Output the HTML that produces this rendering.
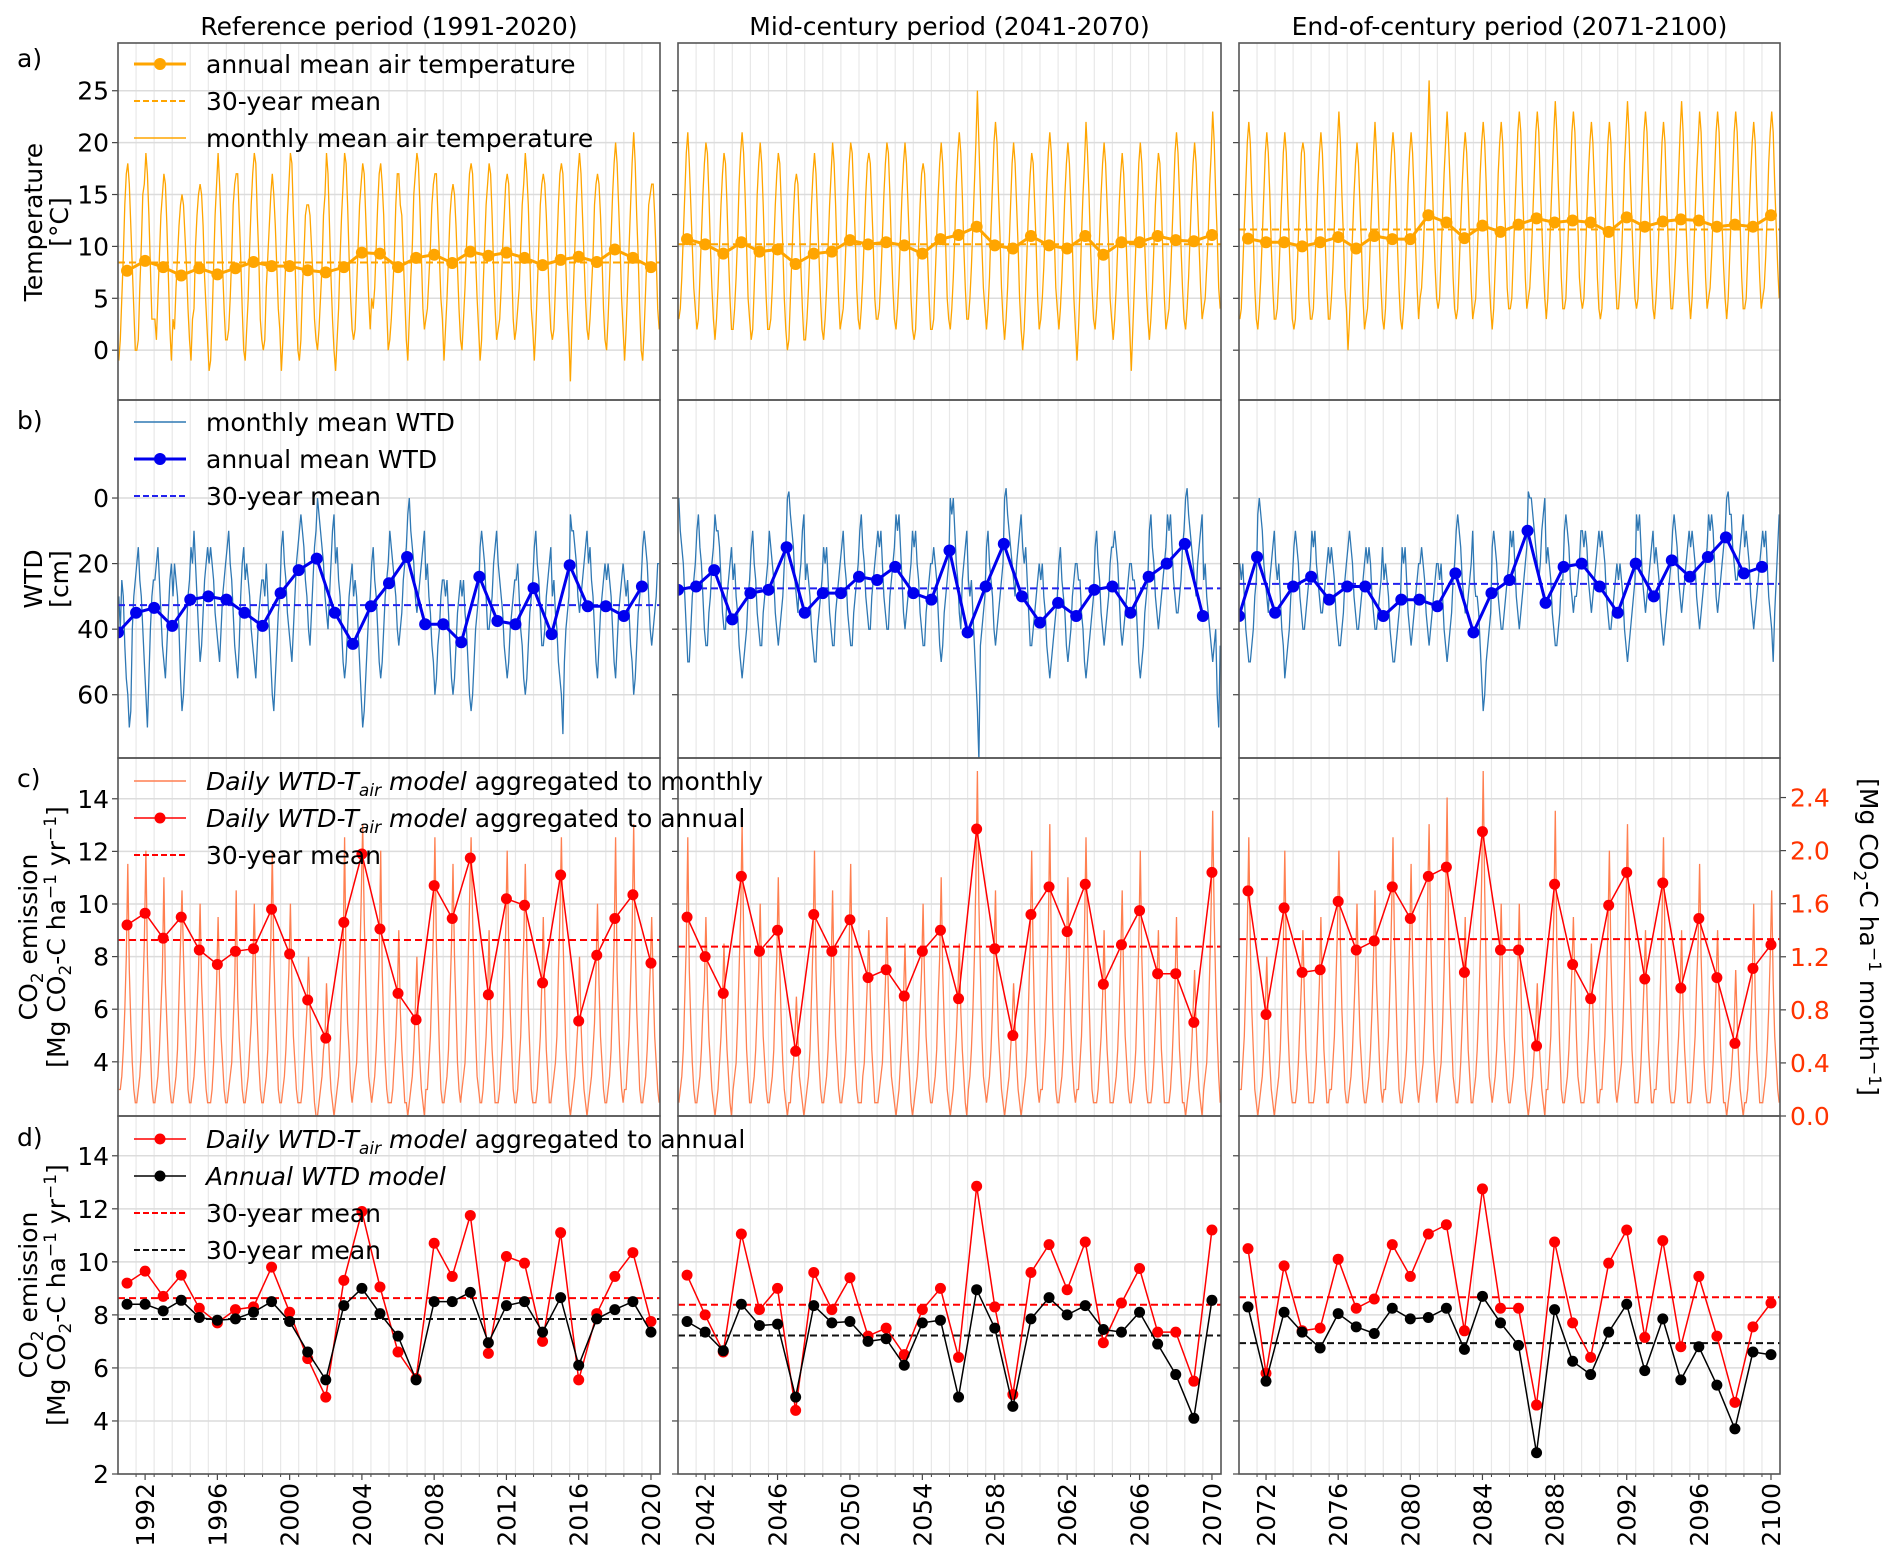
<!DOCTYPE html>
<html><head><meta charset="utf-8"><title>Climate scenario panels</title>
<style>html,body{margin:0;padding:0;background:#fff}svg{display:block}</style></head>
<body>
<svg id="fig" xmlns="http://www.w3.org/2000/svg" width="1892" height="1561" viewBox="0 0 1892 1561" font-family="'DejaVu Sans','Liberation Sans',sans-serif"></svg>
<script>
// ---------- DATA ----------
const periodTitles = ["Reference period (1991-2020)", "Mid-century period (2041-2070)", "End-of-century period (2071-2100)"];
const startYears = [1991, 2041, 2071];
const tickYears1 = [1992,1996,2000,2004,2008,2012,2016,2020];
const tickYears2 = [2042,2046,2050,2054,2058,2062,2066,2070];
const tickYears3 = [2072,2076,2080,2084,2088,2092,2096,2100];
const tempTicks = [0,5,10,15,20,25];
const wtdTicks = [0,20,40,60];
const co2Ticks = [4,6,8,10,12,14];
const co2TicksD = [2,4,6,8,10,12,14];
const co2MonthTicks = ["0.0","0.4","0.8","1.2","1.6","2.0","2.4"];

const tempAnnual1 = [7.65,8.6,8.0,7.2,7.9,7.3,7.9,8.5,8.1,8.1,7.7,7.5,8.0,9.4,9.3,8.0,8.9,9.2,8.4,9.5,9.1,9.4,8.9,8.2,8.7,9.0,8.5,9.7,8.9,8.0];
const tempAnnual2 = [10.7,10.2,9.3,10.4,9.5,9.7,8.3,9.3,9.5,10.6,10.2,10.4,10.1,9.3,10.7,11.1,11.9,10.1,9.8,11.0,10.1,9.8,11.0,9.2,10.4,10.4,11.0,10.6,10.5,11.1];
const tempAnnual3 = [10.75,10.4,10.4,10.0,10.4,10.9,9.8,11.0,10.7,10.7,13.0,12.3,10.8,12.0,11.4,12.1,12.7,12.3,12.5,12.3,11.4,12.8,11.9,12.4,12.6,12.5,11.9,12.1,11.9,13.0];

const wtdAnnual1 = [41,35,33.5,39,31,30,31,35,39,29,22,18.5,35,44.5,33,26,18,38.5,38.5,44,24,37.5,38.5,27.5,41.5,20.5,33,33,36,27];
const wtdAnnual2 = [28,27,22,37,29,28,15,35,29,29,24,25,21,29,31,16,41,27,14,30,38,32,36,28,27,35,24,20,14,36];
const wtdAnnual3 = [36,18,35,27,24,31,27,27,36,31,31,33,23,41,29,25,10,32,21,20,27,35,20,30,19,24,18,12,23,21];

const co2Daily1 = [9.2,9.65,8.7,9.5,8.25,7.7,8.2,8.3,9.8,8.1,6.35,4.9,9.3,11.9,9.05,6.6,5.6,10.7,9.45,11.75,6.55,10.2,9.95,7.0,11.1,5.55,8.05,9.45,10.35,7.75];
const co2Daily2 = [9.5,8.0,6.6,11.05,8.2,9.0,4.4,9.6,8.2,9.4,7.2,7.5,6.5,8.2,9.0,6.4,12.85,8.3,5.0,9.6,10.65,8.95,10.75,6.95,8.45,9.75,7.35,7.35,5.5,11.2];
const co2Daily3 = [10.5,5.8,9.85,7.4,7.5,10.1,8.25,8.6,10.65,9.45,11.05,11.4,7.4,12.75,8.25,8.25,4.6,10.75,7.7,6.4,9.95,11.2,7.15,10.8,6.8,9.45,7.2,4.7,7.55,8.45];

const co2Annual1 = [8.4,8.4,8.15,8.55,7.9,7.8,7.85,8.1,8.5,7.75,6.6,5.55,8.35,9.0,8.05,7.2,5.55,8.5,8.5,8.85,6.95,8.35,8.5,7.35,8.65,6.1,7.85,8.2,8.5,7.35];
const co2Annual2 = [7.75,7.35,6.65,8.4,7.6,7.65,4.9,8.35,7.7,7.75,7.0,7.1,6.1,7.7,7.8,4.9,8.95,7.5,4.55,7.85,8.65,8.0,8.35,7.45,7.35,8.1,6.9,5.75,4.1,8.55];
const co2Annual3 = [8.3,5.5,8.1,7.35,6.75,8.05,7.55,7.3,8.25,7.85,7.9,8.25,6.7,8.7,7.7,6.85,2.8,8.2,6.25,5.75,7.35,8.4,5.9,7.85,5.55,6.8,5.35,3.7,6.6,6.5];

const tempMonthly1 = ("-1 1 5 9 14 17 18 16 12 8 4 0 0 1 6 10 15 16 19 17 13 8 3 3 3 1 5 9 13 15 17 16 12 7 2 -1 3 2 6 9 12 14 15 14 11 8 4 1 "+
"-1 3 4 10 13 15 16 15 12 7 4 1 -2 -1 3 8 13 16 19 16 12 8 4 1 1 2 5 9 14 16 17 17 13 9 4 0 -1 2 5 10 14 17 19 18 13 9 3 1 "+
"0 1 6 9 12 15 17 15 12 8 4 2 -2 1 5 9 13 16 19 18 13 9 4 0 -1 1 6 9 13 14 14 13 10 7 3 1 0 2 5 8 13 15 19 17 12 7 3 0 "+
"-2 1 4 9 13 16 19 18 14 9 5 2 1 2 6 10 14 16 18 17 13 9 5 2 5 4 6 10 14 17 18 16 13 8 4 0 1 3 6 9 14 17 17 14 13 9 5 1 "+
"-1 3 7 10 15 17 19 18 14 9 4 2 3 4 7 10 14 16 17 17 13 9 5 3 -1 2 5 9 13 15 16 15 12 8 4 1 0 3 6 10 14 17 18 17 13 9 5 2 "+
"-1 1 6 10 14 16 18 17 13 8 4 1 2 3 6 10 13 16 17 16 12 8 3 1 2 4 6 10 14 16 19 17 14 9 4 2 -1 2 6 10 14 16 17 16 13 9 5 2 "+
"1 2 6 10 14 17 18 17 13 8 4 1 -3 2 6 10 14 17 19 17 13 9 5 2 1 3 6 9 14 16 17 16 13 9 4 1 0 3 7 11 15 18 20 18 14 10 5 2 "+
"-1 2 6 10 14 18 21 18 13 9 4 0 -1 2 6 10 14 15 16 16 13 9 4 2").split(" ").map(Number);
const tempMonthly2 = ("3 4 7 11 15 19 21 18 14 10 6 4 2 3 7 11 15 18 20 19 15 10 6 3 1 3 6 10 14 17 19 18 14 9 5 2 2 4 7 11 16 19 21 19 15 10 5 3 "+
"1 2 6 10 15 18 20 18 14 9 5 2 2 3 6 10 14 17 19 18 14 10 5 2 0 1 5 9 13 16 17 16 12 8 4 1 1 3 6 10 14 17 19 17 13 9 5 2 "+
"1 3 6 10 14 17 20 18 14 9 5 2 3 4 7 11 15 18 20 19 15 11 6 3 2 4 7 11 15 18 19 18 14 10 5 3 3 4 7 11 15 18 20 19 15 10 6 3 "+
"2 4 7 11 15 18 20 18 14 10 5 2 1 2 6 10 14 17 18 17 13 9 5 2 2 3 7 11 15 18 20 18 14 10 5 3 2 4 7 11 16 19 21 19 15 10 6 3 "+
"3 5 8 12 16 20 25 20 15 10 6 4 2 4 7 12 16 20 22 20 15 11 6 3 1 3 6 10 14 18 20 18 14 10 5 2 0 2 6 10 14 17 19 18 14 10 5 2 "+
"3 5 8 12 16 19 21 19 15 11 6 4 2 4 7 11 15 18 20 18 14 10 5 2 -1 2 6 11 15 18 22 19 15 10 6 3 2 4 7 11 15 18 20 18 14 10 5 3 "+
"1 3 6 10 14 17 19 17 13 9 5 2 -2 2 6 10 14 18 20 18 14 10 6 3 1 3 6 10 14 17 19 18 14 9 5 2 3 4 7 11 15 19 21 19 15 10 6 3 "+
"2 4 7 11 15 18 20 18 14 10 6 3 4 5 8 11 16 19 23 20 15 11 6 4").split(" ").map(Number);
const tempMonthly3 = ("3 4 8 12 16 20 22 20 15 11 6 3 2 4 7 11 15 19 21 19 15 10 6 3 3 4 7 11 15 19 21 19 14 10 6 3 2 3 7 11 15 19 20 19 14 10 5 3 "+
"3 4 8 12 16 19 21 19 15 10 6 3 3 5 8 12 16 20 23 20 15 11 6 4 0 3 7 11 15 18 20 18 14 10 5 2 3 4 7 11 15 19 22 19 15 10 6 3 "+
"2 4 8 12 16 19 21 19 15 10 6 3 2 4 7 11 16 19 21 19 15 10 6 3 5 6 9 13 17 21 26 21 17 12 8 5 4 5 9 13 17 20 23 20 16 12 7 4 "+
"3 4 8 12 16 19 21 19 15 10 6 3 4 5 9 13 17 20 22 20 16 11 7 4 2 4 8 12 17 20 22 20 15 11 6 4 4 5 9 13 17 21 23 21 16 12 7 4 "+
"5 6 9 13 17 21 23 21 16 12 8 5 3 5 9 13 17 21 24 21 16 12 7 4 4 5 9 13 17 21 23 21 16 12 7 5 4 5 9 13 17 20 22 20 16 12 7 4 "+
"3 4 8 12 16 20 22 20 15 11 7 4 4 6 9 13 18 21 24 21 16 12 8 5 4 5 9 13 17 21 23 21 16 12 7 4 3 5 8 12 16 20 22 20 15 11 7 4 "+
"4 6 9 13 17 21 24 21 16 12 8 5 3 5 9 13 17 20 23 21 16 12 7 4 5 6 9 13 17 21 23 21 16 12 8 5 3 5 9 13 17 21 23 21 16 12 7 4 "+
"4 5 9 13 17 20 22 20 15 11 7 4 5 6 9 13 18 21 23 21 16 12 8 5").split(" ").map(Number);

const wtdMonthly1 = ("30 40 25 30 45 55 60 70 65 40 30 25 20 15 25 30 40 50 60 70 55 40 30 25 25 20 15 25 35 45 50 55 45 35 25 20 30 20 25 30 40 55 65 60 50 40 30 25 "+
"15 20 10 20 30 40 50 45 35 25 20 15 20 15 20 25 35 40 45 50 40 30 25 20 15 10 20 25 35 45 50 55 45 30 20 15 25 20 25 30 40 45 50 55 45 35 30 25 "+
"25 30 20 30 40 50 60 65 55 45 35 30 15 10 20 25 35 40 45 50 40 30 20 15 10 5 10 15 25 30 40 45 35 25 15 10 0 5 10 15 20 30 35 40 30 20 10 5 "+
"20 15 25 30 40 50 55 50 40 30 25 20 30 25 30 40 50 60 70 65 55 45 35 30 20 15 25 30 40 50 55 50 40 30 25 20 10 15 20 25 30 40 45 40 35 25 20 15 "+
"5 0 10 15 20 30 35 30 25 20 15 10 25 20 30 35 45 50 60 55 45 40 30 25 25 30 25 35 45 55 60 55 45 35 30 25 30 25 35 40 50 60 65 60 50 40 35 30 "+
"15 10 15 20 30 40 40 35 30 20 15 10 20 25 30 35 45 50 55 50 40 35 30 25 25 20 30 40 45 55 60 55 45 35 30 25 15 10 20 25 35 45 45 40 30 25 20 15 "+
"30 25 35 40 50 55 60 72 50 40 35 30 5 10 10 15 20 30 35 30 25 20 15 10 20 15 25 30 40 50 55 45 35 30 25 20 25 20 25 30 40 50 55 45 35 30 25 20 "+
"25 30 25 35 45 50 60 55 45 35 30 25 15 10 15 20 30 40 45 40 35 30 20 20").split(" ").map(Number);
const wtdMonthly2 = ("0 10 15 20 30 40 50 50 40 30 25 20 10 5 15 20 30 40 45 45 35 30 20 15 5 10 10 15 25 35 40 40 30 25 20 15 25 20 30 35 45 50 55 50 45 40 30 25 "+
"15 10 20 25 35 40 45 45 35 30 25 20 10 15 20 25 35 40 45 40 35 30 20 15 0 -2 5 10 15 25 30 35 25 20 10 5 25 20 25 30 40 45 50 50 40 35 30 25 "+
"15 20 15 25 35 40 45 45 35 30 25 20 15 10 20 25 35 40 45 45 35 30 25 20 10 5 15 20 30 35 40 40 30 25 20 15 10 15 10 20 30 35 40 40 30 25 20 15 "+
"5 10 5 15 25 35 40 35 30 25 20 10 15 10 20 25 35 40 45 45 35 30 25 20 20 15 20 25 35 45 50 45 35 30 25 20 0 5 0 10 20 25 35 40 25 20 15 10 "+
"25 30 25 35 45 55 65 80 45 40 35 30 15 10 20 25 30 40 45 40 35 30 25 20 0 -3 5 10 15 20 25 30 20 15 10 5 15 20 15 25 35 45 45 40 35 30 25 20 "+
"25 20 30 35 45 50 55 50 45 40 35 30 20 15 25 30 35 45 50 45 40 30 25 20 20 25 25 35 40 50 55 50 45 40 35 30 15 10 20 25 35 40 45 40 35 30 20 15 "+
"15 10 15 20 30 40 45 40 35 30 25 20 20 25 25 30 40 50 55 50 45 35 30 25 10 5 15 20 30 35 40 35 30 25 20 15 5 10 5 15 25 30 35 35 30 25 15 10 "+
"0 -3 5 10 15 20 25 30 20 15 10 5 25 20 30 35 40 45 50 45 40 60 70 45").split(" ").map(Number);
const wtdMonthly3 = ("20 25 20 30 40 45 50 50 45 40 30 25 5 0 5 10 20 25 30 35 25 20 15 10 20 25 20 30 40 45 55 50 45 40 30 25 15 10 15 20 30 35 40 40 35 30 25 20 "+
"10 15 10 20 25 30 35 35 30 25 20 15 20 15 20 25 35 40 45 45 40 35 25 20 15 10 15 20 30 35 40 40 35 30 25 20 15 20 15 20 30 35 40 40 35 30 25 15 "+
"25 20 25 30 40 45 50 50 45 40 35 30 15 20 15 25 35 40 45 40 35 30 25 20 20 15 20 25 35 40 45 40 35 30 25 20 20 25 20 30 40 45 50 45 40 35 25 20 "+
"10 5 10 15 25 30 35 35 30 25 20 10 25 30 30 35 45 55 65 60 50 45 40 35 15 10 15 20 30 35 40 40 35 30 25 20 10 15 10 20 30 35 40 35 30 25 20 15 "+
"-2 0 0 5 10 15 20 25 20 10 5 0 20 15 20 25 35 40 45 45 40 35 25 25 10 5 10 15 25 30 35 30 30 25 20 10 10 15 10 15 25 30 35 30 25 20 15 10 "+
"15 10 15 20 30 35 40 40 35 30 25 20 25 20 25 30 40 45 50 45 40 35 30 25 5 10 5 15 25 30 35 30 25 20 15 10 20 15 20 25 35 40 45 40 35 30 25 20 "+
"10 5 10 15 25 30 35 30 25 20 15 10 15 10 15 20 30 35 40 35 30 25 20 15 5 10 5 10 20 30 35 30 25 20 15 10 0 -2 5 5 15 20 25 25 20 15 10 5 "+
"15 10 15 20 30 35 40 35 30 25 20 15 10 15 10 20 30 35 40 50 35 25 15 5").split(" ").map(Number);

const co2Monthly1 = ("0.2 0.2 0.3 0.5 0.8 1.2 1.9 1.1 0.7 0.4 0.2 0.1 0.1 0.2 0.3 0.5 0.9 1.3 2.0 1.2 0.8 0.5 0.2 0.1 0.1 0.2 0.3 0.5 0.8 1.1 1.8 1.0 0.7 0.4 0.2 0.1 0.1 0.2 0.3 0.5 0.9 1.3 1.7 1.2 0.8 0.5 0.2 0.1 "+
"0.1 0.2 0.3 0.5 0.8 1.1 1.6 1.0 0.7 0.4 0.2 0.1 0.1 0.1 0.2 0.4 0.7 1.0 1.5 1.0 0.6 0.4 0.2 0.1 0.1 0.2 0.3 0.4 0.7 1.0 1.7 0.9 0.6 0.4 0.2 0.1 0.1 0.2 0.3 0.5 0.7 1.1 1.6 1.0 0.7 0.4 0.2 0.1 "+
"0.1 0.2 0.3 0.5 0.9 1.3 2.0 1.2 0.8 0.5 0.2 0.1 0.1 0.2 0.3 0.5 0.8 1.1 1.6 1.0 0.6 0.4 0.2 0.1 0.1 0.1 0.2 0.4 0.6 0.8 1.2 0.8 0.5 0.3 0.1 0.0 0.0 0.1 0.2 0.3 0.5 0.6 1.0 0.7 0.4 0.2 0.1 0.0 "+
"0.1 0.2 0.3 0.5 0.9 1.2 2.1 1.1 0.7 0.5 0.2 0.1 0.2 0.3 0.4 0.7 1.1 1.6 2.2 1.5 1.0 0.6 0.3 0.2 0.1 0.2 0.3 0.5 0.8 1.2 2.0 1.1 0.7 0.4 0.2 0.1 0.1 0.1 0.2 0.4 0.6 0.9 1.4 0.8 0.5 0.3 0.1 0.1 "+
"0.0 0.1 0.2 0.3 0.5 0.8 1.2 0.7 0.4 0.2 0.1 0.0 0.2 0.2 0.4 0.6 1.0 1.4 2.1 1.3 0.9 0.5 0.2 0.1 0.1 0.2 0.3 0.5 0.9 1.3 1.9 1.2 0.8 0.4 0.2 0.1 0.2 0.3 0.4 0.7 1.1 1.6 2.1 1.5 1.0 0.6 0.3 0.2 "+
"0.1 0.1 0.2 0.4 0.6 0.9 1.4 0.8 0.5 0.3 0.1 0.1 0.1 0.2 0.4 0.6 1.0 1.4 2.0 1.3 0.8 0.5 0.2 0.1 0.1 0.2 0.4 0.6 1.0 1.3 1.9 1.3 0.8 0.5 0.2 0.1 0.1 0.1 0.2 0.4 0.6 1.0 1.5 0.9 0.5 0.3 0.1 0.1 "+
"0.2 0.3 0.4 0.6 1.1 1.5 2.1 1.4 0.9 0.5 0.3 0.1 0.0 0.1 0.2 0.3 0.5 0.7 1.2 0.7 0.4 0.2 0.1 0.0 0.1 0.2 0.3 0.5 0.7 1.1 1.6 1.0 0.6 0.4 0.2 0.1 0.1 0.2 0.3 0.5 0.9 1.3 2.1 1.1 0.7 0.4 0.2 0.1 "+
"0.2 0.2 0.4 0.6 1.0 1.4 2.2 1.3 0.8 0.5 0.2 0.1 0.1 0.2 0.3 0.5 0.8 1.1 1.5 1.0 0.6 0.4 0.2 0.1").split(" ").map(Number);
const co2Monthly2 = ("0.1 0.2 0.3 0.5 0.9 1.3 2.1 1.1 0.7 0.4 0.2 0.1 0.1 0.2 0.3 0.5 0.8 1.0 1.5 1.0 0.6 0.4 0.2 0.1 0.0 0.1 0.2 0.4 0.6 0.9 1.3 0.8 0.5 0.3 0.1 0.0 0.2 0.3 0.4 0.7 1.1 1.5 2.2 1.4 0.9 0.5 0.3 0.1 "+
"0.1 0.2 0.3 0.5 0.8 1.1 1.6 1.0 0.6 0.4 0.2 0.1 0.1 0.2 0.3 0.5 0.9 1.2 1.8 1.1 0.7 0.4 0.2 0.1 0.0 0.1 0.1 0.3 0.4 0.6 0.9 0.6 0.3 0.2 0.1 0.0 0.1 0.2 0.3 0.5 0.9 1.3 2.0 1.1 0.7 0.4 0.2 0.1 "+
"0.1 0.2 0.3 0.5 0.8 1.1 1.7 1.0 0.6 0.4 0.2 0.1 0.1 0.2 0.3 0.5 0.9 1.3 1.9 1.1 0.7 0.4 0.2 0.1 0.1 0.1 0.3 0.4 0.7 1.0 1.4 0.9 0.5 0.3 0.1 0.1 0.1 0.2 0.3 0.4 0.7 1.0 1.5 0.9 0.6 0.3 0.2 0.1 "+
"0.0 0.1 0.2 0.4 0.6 0.9 1.3 0.8 0.5 0.3 0.1 0.0 0.1 0.2 0.3 0.5 0.8 1.1 1.6 1.0 0.6 0.4 0.2 0.1 0.1 0.2 0.3 0.5 0.9 1.2 1.8 1.1 0.7 0.4 0.2 0.1 0.0 0.1 0.2 0.4 0.6 0.9 1.3 0.8 0.5 0.3 0.1 0.0 "+
"0.2 0.3 0.5 0.8 1.2 1.8 2.6 1.6 1.1 0.6 0.3 0.2 0.1 0.2 0.3 0.5 0.8 1.2 1.7 1.0 0.6 0.4 0.2 0.1 0.0 0.1 0.2 0.3 0.5 0.7 1.0 0.7 0.4 0.2 0.1 0.0 0.1 0.2 0.3 0.5 0.9 1.3 2.0 1.2 0.7 0.4 0.2 0.1 "+
"0.2 0.2 0.4 0.6 1.0 1.4 2.2 1.3 0.8 0.5 0.2 0.1 0.1 0.2 0.3 0.5 0.9 1.2 1.8 1.1 0.7 0.4 0.2 0.1 0.2 0.2 0.4 0.6 1.0 1.4 2.1 1.4 0.9 0.5 0.2 0.1 0.1 0.1 0.2 0.4 0.6 0.9 1.4 0.8 0.5 0.3 0.1 0.1 "+
"0.1 0.2 0.3 0.5 0.8 1.2 1.7 1.0 0.6 0.4 0.2 0.1 0.1 0.2 0.3 0.5 0.9 1.3 2.0 1.2 0.8 0.4 0.2 0.1 0.1 0.1 0.2 0.4 0.7 1.0 1.4 0.9 0.5 0.3 0.1 0.1 0.1 0.1 0.2 0.4 0.7 1.0 1.5 0.9 0.5 0.3 0.1 0.1 "+
"0.0 0.1 0.2 0.3 0.5 0.8 1.1 0.7 0.4 0.2 0.1 0.0 0.2 0.3 0.4 0.7 1.1 1.6 2.3 1.5 1.0 0.6 0.3 0.1").split(" ").map(Number);
const co2Monthly3 = ("0.2 0.2 0.4 0.6 1.0 1.4 2.1 1.3 0.8 0.5 0.2 0.1 0.0 0.1 0.2 0.3 0.5 0.8 1.2 0.7 0.4 0.2 0.1 0.0 0.1 0.2 0.3 0.5 0.9 1.3 2.0 1.2 0.7 0.4 0.2 0.1 0.1 0.1 0.2 0.4 0.7 1.0 1.4 0.9 0.5 0.3 0.1 0.1 "+
"0.1 0.1 0.2 0.4 0.7 1.0 1.5 0.9 0.5 0.3 0.1 0.1 0.2 0.2 0.4 0.6 1.0 1.4 2.0 1.3 0.8 0.5 0.2 0.1 0.1 0.2 0.3 0.5 0.8 1.1 1.6 1.0 0.6 0.4 0.2 0.1 0.1 0.2 0.3 0.5 0.8 1.2 1.7 1.0 0.7 0.4 0.2 0.1 "+
"0.2 0.2 0.4 0.6 1.0 1.5 2.1 1.3 0.9 0.5 0.2 0.1 0.1 0.2 0.3 0.5 0.9 1.3 1.9 1.2 0.8 0.4 0.2 0.1 0.2 0.3 0.4 0.7 1.1 1.6 2.2 1.4 0.9 0.5 0.3 0.1 0.2 0.3 0.4 0.7 1.1 1.6 2.4 1.4 0.9 0.6 0.3 0.2 "+
"0.1 0.1 0.2 0.4 0.7 1.0 1.5 0.9 0.5 0.3 0.1 0.1 0.2 0.3 0.5 0.8 1.2 1.8 2.6 1.7 1.1 0.6 0.3 0.2 0.1 0.2 0.3 0.5 0.8 1.1 1.6 1.0 0.6 0.4 0.2 0.1 0.1 0.2 0.3 0.5 0.8 1.1 1.6 1.0 0.6 0.4 0.2 0.1 "+
"0.0 0.1 0.2 0.3 0.5 0.7 1.0 0.6 0.4 0.2 0.1 0.0 0.2 0.2 0.4 0.6 1.1 1.5 2.3 1.3 0.9 0.5 0.2 0.1 0.1 0.2 0.3 0.5 0.8 1.1 1.5 1.0 0.6 0.3 0.2 0.1 0.1 0.1 0.2 0.4 0.6 0.9 1.3 0.8 0.5 0.3 0.1 0.1 "+
"0.2 0.2 0.4 0.6 1.0 1.4 2.0 1.2 0.8 0.5 0.2 0.1 0.2 0.3 0.4 0.7 1.1 1.6 2.2 1.4 0.9 0.5 0.3 0.1 0.1 0.1 0.2 0.4 0.7 1.0 1.4 0.9 0.5 0.3 0.1 0.1 0.2 0.2 0.4 0.6 1.0 1.5 2.1 1.3 0.9 0.5 0.2 0.1 "+
"0.1 0.1 0.2 0.4 0.6 0.9 1.4 0.8 0.5 0.3 0.1 0.1 0.1 0.2 0.4 0.6 1.0 1.3 1.9 1.2 0.8 0.4 0.2 0.1 0.1 0.1 0.2 0.4 0.7 1.0 1.4 0.9 0.5 0.3 0.1 0.1 0.0 0.1 0.2 0.3 0.5 0.7 1.1 0.7 0.4 0.2 0.1 0.0 "+
"0.1 0.1 0.2 0.4 0.7 1.0 1.6 0.9 0.5 0.3 0.1 0.1 0.1 0.2 0.3 0.5 0.8 1.2 1.7 1.0 0.6 0.4 0.2 0.1").split(" ").map(Number);

// ---------- LAYOUT ----------
const NS = "http://www.w3.org/2000/svg";
const svg = document.getElementById("fig");
const colX = [[118,660],[678,1221],[1239,1780]];
const rowY = [[43,400],[400,758],[758,1116],[1116,1474]];
const xStart = [1990.5, 2040.5, 2070.5];
const xSpan = 30;
const yLims = [[-4.8,29.6],[79.3,-29.9],[1.94,15.55],[2,15.5]];
const rightLim = [0, 2.698];
const FS = 25;

function mk(tag, attrs, parent, name) {
  const el = document.createElementNS(NS, tag);
  for (const k in attrs) el.setAttribute(k, attrs[k]);
  
  
  (parent || svg).appendChild(el);
  return el;
}
function xScale(c, yr) { return colX[c][0] + (yr - xStart[c]) / xSpan * (colX[c][1] - colX[c][0]); }
function yScale(r, v) { const [a,b] = yLims[r]; return rowY[r][1] - (v - a) / (b - a) * (rowY[r][1] - rowY[r][0]); }
function yRight(v) { return rowY[2][1] - (v - rightLim[0]) / (rightLim[1] - rightLim[0]) * (rowY[2][1] - rowY[2][0]); }
function pathD(pts) { return pts.map((p,i)=>(i?"L":"M")+p[0].toFixed(1)+","+p[1].toFixed(1)).join(""); }
function mean(a) { return a.reduce((s,v)=>s+v,0)/a.length; }

const defs = mk("defs", {}, svg, "clip-defs");
for (let r=0;r<4;r++) for (let c=0;c<3;c++) {
  const cp = mk("clipPath", {id:`clip${r}${c}`}, defs, "panel-clip");
  mk("rect", {x:colX[c][0], y:rowY[r][0], width:colX[c][1]-colX[c][0], height:rowY[r][1]-rowY[r][0]}, cp, "clip-rect");
}

periodTitles.forEach((t,c)=>{
  const el = mk("text", {x:(colX[c][0]+colX[c][1])/2, y:35, "text-anchor":"middle", "font-size":FS, fill:"#000"}, svg, "period-title");
  el.textContent = t;
});

const tickSets = [tickYears1, tickYears2, tickYears3];
const yTickSets = [tempTicks, wtdTicks, co2Ticks, co2TicksD];

for (let r=0;r<4;r++) for (let c=0;c<3;c++) {
  const g = mk("g", {}, svg, `panel-${"abcd"[r]}-${c+1}`);
  const [x0,x1] = colX[c], [y0,y1] = rowY[r];
  for (let k=1;k<xSpan;k++) { const x = xScale(c, xStart[c]+k);
    mk("line",{x1:x,x2:x,y1:y0,y2:y1,stroke:"#e8e8e8","stroke-width":1.2},g,"x-gridline"); }
  yTickSets[r].forEach(v=>{ const y=yScale(r,v);
    mk("line",{x1:x0,x2:x1,y1:y,y2:y,stroke:"#dcdcdc","stroke-width":1.5},g,"y-gridline");
    mk("line",{x1:x0-6,x2:x0,y1:y,y2:y,stroke:"#444","stroke-width":1.2},g,"y-tick");
    if (c===0) { const t=mk("text",{x:x0-9,y:y+9,"text-anchor":"end","font-size":FS,fill:"#000"},g,"y-tick-label"); t.textContent=v; }
  });
  if (r===3) tickSets[c].forEach(yr=>{ const x=xScale(c,yr);
    mk("line",{x1:x,x2:x,y1:y1,y2:y1+6,stroke:"#444","stroke-width":1.2},g,"x-tick");
    const t=mk("text",{x:x+9,y:y1+9,"text-anchor":"end","font-size":FS,fill:"#000",transform:`rotate(-90 ${x+9} ${y1+9})`},g,"x-tick-label"); t.textContent=yr; });
  if (r===3) for (let k=1;k<xSpan;k++){ const x=xScale(c,xStart[c]+k);
    mk("line",{x1:x,x2:x,y1:y1,y2:y1+3,stroke:"#444","stroke-width":1},g,"x-minor-tick"); }
}

co2MonthTicks.forEach(v=>{ const y=yRight(parseFloat(v));
  mk("line",{x1:1780,x2:1786,y1:y,y2:y,stroke:"#444","stroke-width":1.2},svg,"right-y-tick");
  const t=mk("text",{x:1790,y:y+9,"font-size":FS,fill:"#ff3300"},svg,"right-y-tick-label"); t.textContent=v; });

// ---------- SERIES ----------
const tempA=[tempAnnual1,tempAnnual2,tempAnnual3], tempM=[tempMonthly1,tempMonthly2,tempMonthly3];
const wtdA=[wtdAnnual1,wtdAnnual2,wtdAnnual3], wtdM=[wtdMonthly1,wtdMonthly2,wtdMonthly3];
const redA=[co2Daily1,co2Daily2,co2Daily3], blackA=[co2Annual1,co2Annual2,co2Annual3], co2M=[co2Monthly1,co2Monthly2,co2Monthly3];

function monthlyLine(r,c,arr,yfn,color,name){
  const pts = arr.map((v,i)=>[xScale(c,startYears[c]-0.5+(i+0.5)/12), yfn(v)]);
  mk("path",{d:pathD(pts),fill:"none",stroke:color,"stroke-width":1.3,"clip-path":`url(#clip${r}${c})`},svg,name);
}
function annualLine(r,c,arr,offset,color,w,rad,name){
  const g=mk("g",{"clip-path":`url(#clip${r}${c})`},svg,name);
  const pts=arr.map((v,i)=>[xScale(c,startYears[c]+i+offset), yScale(r,v)]);
  mk("path",{d:pathD(pts),fill:"none",stroke:color,"stroke-width":w},g,name+"-line");
  pts.forEach(p=>mk("circle",{cx:p[0],cy:p[1],r:rad,fill:color},g,name+"-marker"));
}
function meanLine(r,c,v,color,name){
  const y=yScale(r,v);
  mk("line",{x1:colX[c][0],x2:colX[c][1],y1:y,y2:y,stroke:color,"stroke-width":2,"stroke-dasharray":"7,4"},svg,name);
}
for (let c=0;c<3;c++){
  monthlyLine(0,c,tempM[c],v=>yScale(0,v),"#ffa500","monthly-temperature");
  meanLine(0,c,mean(tempA[c]),"#ffa500","temperature-30yr-mean");
  annualLine(0,c,tempA[c],0,"#ffa500",3,6,"annual-temperature");

  monthlyLine(1,c,wtdM[c],v=>yScale(1,v),"#2f78b4","monthly-wtd");
  meanLine(1,c,mean(wtdA[c]),"#2222ee","wtd-30yr-mean");
  annualLine(1,c,wtdA[c],-0.5,"#0000ee",3,6,"annual-wtd");

  monthlyLine(2,c,co2M[c],yRight,"#ff7f50","monthly-co2");
  meanLine(2,c,mean(redA[c]),"#ff0000","co2-30yr-mean");
  annualLine(2,c,redA[c],0,"#ff0000",1.5,5.5,"annual-co2-daily-model");

  meanLine(3,c,mean(redA[c]),"#ff0000","daily-model-30yr-mean");
  meanLine(3,c,mean(blackA[c]),"#111111","annual-model-30yr-mean");
  annualLine(3,c,redA[c],0,"#ff0000",1.5,5.5,"daily-model-annual");
  annualLine(3,c,blackA[c],0,"#000000",1.5,5.5,"annual-wtd-model");
}

for (let r=0;r<4;r++) for (let c=0;c<3;c++)
  mk("rect",{x:colX[c][0],y:rowY[r][0],width:colX[c][1]-colX[c][0],height:rowY[r][1]-rowY[r][0],fill:"none",stroke:"#555","stroke-width":1.6},svg,"panel-frame");

[["a)",58],["b)",420],["c)",778],["d)",1137]].forEach(([t,y])=>{ const el=mk("text",{x:17,y:y+9,"font-size":FS},svg,"panel-letter"); el.textContent=t; });
function vlabel(x,y,content,name){ const el=mk("text",{x:x,y:y,"text-anchor":"middle","font-size":FS,transform:`rotate(-90 ${x} ${y})`},svg,name); el.innerHTML=content; return el; }
vlabel(42,222,"Temperature","temperature-axis-title");
vlabel(68,222,"[°C]","temperature-unit");
vlabel(42,579,"WTD","wtd-axis-title");
vlabel(68,579,"[cm]","wtd-unit");
const co2L1='CO<tspan font-size="17" dy="6">2</tspan><tspan dy="-6"> emission</tspan>';
const co2L2='[Mg CO<tspan font-size="17" dy="6">2</tspan><tspan dy="-6">-C ha</tspan><tspan font-size="17" dy="-9">−1</tspan><tspan dy="9"> yr</tspan><tspan font-size="17" dy="-9">−1</tspan><tspan dy="9">]</tspan>';
vlabel(37,937,co2L1,"co2-axis-title-c");
vlabel(65,937,co2L2,"co2-unit-c");
vlabel(37,1295,co2L1,"co2-axis-title-d");
vlabel(65,1295,co2L2,"co2-unit-d");
(function(){ const x=1860,y=937; const el=mk("text",{x:x,y:y,"text-anchor":"middle","font-size":FS,transform:`rotate(90 ${x} ${y})`},svg,"right-axis-title");
 el.innerHTML='[Mg CO<tspan font-size="17" dy="6">2</tspan><tspan dy="-6">-C ha</tspan><tspan font-size="17" dy="-9">−1</tspan><tspan dy="9"> month</tspan><tspan font-size="17" dy="-9">−1</tspan><tspan dy="9">]</tspan>'; })();

// ---------- LEGENDS ----------
function legend(y, kind, color, label, name){
  const g=mk("g",{},svg,name);
  if (kind==="dash") mk("line",{x1:134,x2:186,y1:y,y2:y,stroke:color,"stroke-width":2,"stroke-dasharray":"6,3"},g,"legend-swatch");
  else { mk("line",{x1:134,x2:186,y1:y,y2:y,stroke:color,"stroke-width":kind==="thick"?3:(kind==="thin"?1.5:1.6)},g,"legend-swatch");
    if (kind==="thick"||kind==="marker") mk("circle",{cx:160,cy:y,r:kind==="thick"?6:5.5,fill:color},g,"legend-marker"); }
  const t=mk("text",{x:206,y:y+9,"font-size":FS},g,"legend-label"); t.innerHTML=label;
}
const dailyLbl = '<tspan font-style="italic">Daily WTD-T</tspan><tspan font-style="italic" font-size="17" dy="6">air</tspan><tspan font-style="italic" dy="-6"> model</tspan> aggregated to ';
legend(64,"thick","#ffa500","annual mean air temperature","legend-annual-temperature");
legend(101,"dash","#ffa500","30-year mean","legend-temperature-mean");
legend(138,"thin","#ffa500","monthly mean air temperature","legend-monthly-temperature");
legend(422,"thin","#2f78b4","monthly mean WTD","legend-monthly-wtd");
legend(459,"thick","#0000ee","annual mean WTD","legend-annual-wtd");
legend(496,"dash","#2222ee","30-year mean","legend-wtd-mean");
legend(781,"thin","#ff7f50",dailyLbl+"monthly","legend-monthly-co2");
legend(818,"marker","#ff0000",dailyLbl+"annual","legend-annual-co2");
legend(855,"dash","#ff0000","30-year mean","legend-co2-mean");
legend(1139,"marker","#ff0000",dailyLbl+"annual","legend-daily-model");
legend(1176,"marker","#000000",'<tspan font-style="italic">Annual WTD model</tspan>',"legend-annual-model");
legend(1213,"dash","#ff0000","30-year mean","legend-daily-mean");
legend(1250,"dash","#111111","30-year mean","legend-annual-mean");
</script>
</body></html>
